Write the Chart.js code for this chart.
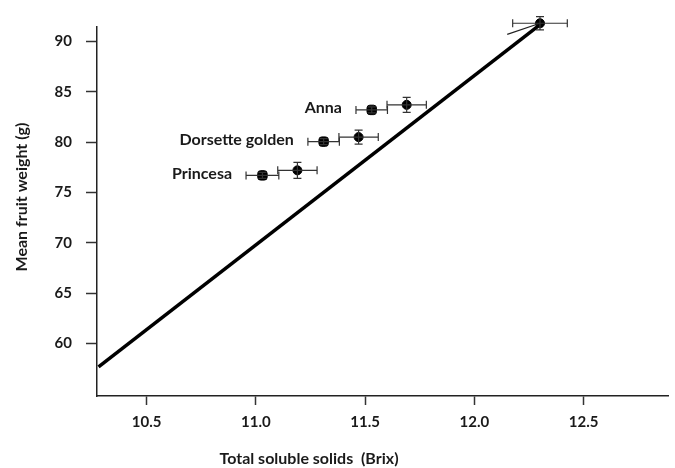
<!DOCTYPE html>
<html>
<head>
<meta charset="utf-8">
<script src="https://cdn.jsdelivr.net/npm/chart.js@4.4.1/dist/chart.umd.min.js"></script>
<style>
  html, body { margin: 0; padding: 0; background: #fff; }
  #wrap { width: 675px; height: 468px; }
</style>
</head>
<body>
<div id="wrap"><canvas id="chart" width="675" height="468"></canvas></div>
<script>
// cultivar means: first (square) and second (circle) reading for each
const cultivars = ["Anna", "Dorsette golden", "Princesa"];
const tssFirst = [11.53, 11.31, 11.03];
const weightFirst = [83.2, 80.05, 76.7];
const tssSecond = [11.69, 11.47, 11.19];
const weightSecond = [83.7, 80.5, 77.2];
const tssErrFirst = [0.072, 0.072, 0.075];
const weightErrFirst = [0.3, 0.3, 0.3];
const tssErrSecond = [0.09, 0.09, 0.09];
const weightErrSecond = [0.75, 0.7, 0.8];

// top point
const tssTop = [12.30];
const weightTop = [91.8];
const tssErrTop = [0.125];
const weightErrTop = [0.65];

// regression line and the short thin segment near the top point
const fitTss = [10.28, 12.29];
const fitWeight = [57.7, 91.5];
const thinTss = [12.15, 12.30];
const thinWeight = [90.7, 91.8];

const xTicks = [10.5, 11.0, 11.5, 12.0, 12.5];
const yTicks = [60, 65, 70, 75, 80, 85, 90];

const FONT = "Lato, 'Open Sans', sans-serif";
const INK = "#1a1a1a";

const toPoints = (xs, ys) => xs.map((x, i) => ({ x: x, y: ys[i] }));

const errorBars = {
  id: "errorBars",
  afterDatasetsDraw(chart) {
    const ctx = chart.ctx;
    const xs = chart.scales.x, ys = chart.scales.y;
    ctx.save();
    ctx.strokeStyle = "#333";
    ctx.lineWidth = 1.2;
    chart.data.datasets.forEach(ds => {
      if (!ds.errX) return;
      ds.data.forEach((p, i) => {
        const cx = xs.getPixelForValue(p.x);
        const cy = ys.getPixelForValue(p.y);
        const x0 = xs.getPixelForValue(p.x - ds.errX[i]);
        const x1 = xs.getPixelForValue(p.x + ds.errX[i]);
        const y0 = ys.getPixelForValue(p.y - ds.errY[i]);
        const y1 = ys.getPixelForValue(p.y + ds.errY[i]);
        ctx.beginPath();
        ctx.moveTo(x0, cy); ctx.lineTo(x1, cy);
        ctx.moveTo(x0, cy - 4); ctx.lineTo(x0, cy + 4);
        ctx.moveTo(x1, cy - 4); ctx.lineTo(x1, cy + 4);
        ctx.moveTo(cx, y0); ctx.lineTo(cx, y1);
        ctx.moveTo(cx - 4, y0); ctx.lineTo(cx + 4, y0);
        ctx.moveTo(cx - 4, y1); ctx.lineTo(cx + 4, y1);
        ctx.stroke();
      });
    });
    ctx.restore();
  }
};

const textLayer = {
  id: "textLayer",
  afterDraw(chart) {
    const ctx = chart.ctx;
    const xs = chart.scales.x, ys = chart.scales.y;
    ctx.save();
    ctx.fillStyle = INK;
    ctx.font = "bold 16px " + FONT;
    ctx.textAlign = "right";
    ctx.textBaseline = "middle";
    cultivars.forEach((name, i) => {
      const x = xs.getPixelForValue(tssFirst[i] - tssErrFirst[i]) - 14;
      const y = ys.getPixelForValue(weightFirst[i]) - 2;
      ctx.fillText(name, x, y);
    });

    // axis titles
    ctx.font = "bold 16px " + FONT;
    ctx.textAlign = "center";
    ctx.fillText("Total soluble solids  (Brix)", 309, 459);
    ctx.translate(22, 197);
    ctx.rotate(-Math.PI / 2);
    ctx.fillText("Mean fruit weight (g)", 0, 0);
    ctx.restore();
  }
};

new Chart(document.getElementById("chart"), {
  type: "scatter",
  data: {
    datasets: [
      {
        data: toPoints(fitTss, fitWeight),
        showLine: true,
        borderColor: "#000",
        borderWidth: 3.5,
        pointRadius: 0,
        clip: false
      },
      {
        data: toPoints(thinTss, thinWeight),
        showLine: true,
        borderColor: "#222",
        borderWidth: 1.2,
        pointRadius: 0,
        clip: false
      },
      {
        data: toPoints(tssFirst, weightFirst),
        errX: tssErrFirst,
        errY: weightErrFirst,
        pointStyle: "rectRounded",
        pointRadius: 5.5,
        backgroundColor: "#000",
        borderColor: "#000"
      },
      {
        data: toPoints(tssSecond, weightSecond),
        errX: tssErrSecond,
        errY: weightErrSecond,
        pointStyle: "circle",
        pointRadius: 4.5,
        backgroundColor: "#000",
        borderColor: "#000"
      },
      {
        data: toPoints(tssTop, weightTop),
        errX: tssErrTop,
        errY: weightErrTop,
        pointStyle: "circle",
        pointRadius: 4.5,
        backgroundColor: "#000",
        borderColor: "#000",
        clip: false
      }
    ]
  },
  options: {
    responsive: false,
    animation: false,
    layout: { padding: { top: 27, right: 3, left: 0, bottom: 0 } },
    plugins: {
      legend: { display: false },
      tooltip: { enabled: false }
    },
    scales: {
      x: {
        type: "linear",
        min: 10.273,
        max: 12.888,
        afterBuildTicks: scale => { scale.ticks = xTicks.map(v => ({ value: v })); },
        afterFit: scale => { scale.height = 72; },
        border: { color: "#222", width: 1.5 },
        grid: { drawOnChartArea: false, tickLength: 9, color: "#333", tickWidth: 1.5 },
        ticks: {
          padding: 8,
          color: INK,
          font: { family: FONT, size: 15, weight: "bold" },
          callback: v => v.toFixed(1)
        }
      },
      y: {
        type: "linear",
        min: 54.8,
        max: 91.43,
        afterBuildTicks: scale => { scale.ticks = yTicks.map(v => ({ value: v })); },
        afterFit: scale => { scale.width = 97; },
        border: { color: "#222", width: 1.5 },
        grid: { drawOnChartArea: false, tickLength: 11, color: "#333", tickWidth: 1.5 },
        ticks: {
          padding: 14,
          color: INK,
          font: { family: FONT, size: 15, weight: "bold" }
        }
      }
    }
  },
  plugins: [errorBars, textLayer]
});
</script>
</body>
</html>
